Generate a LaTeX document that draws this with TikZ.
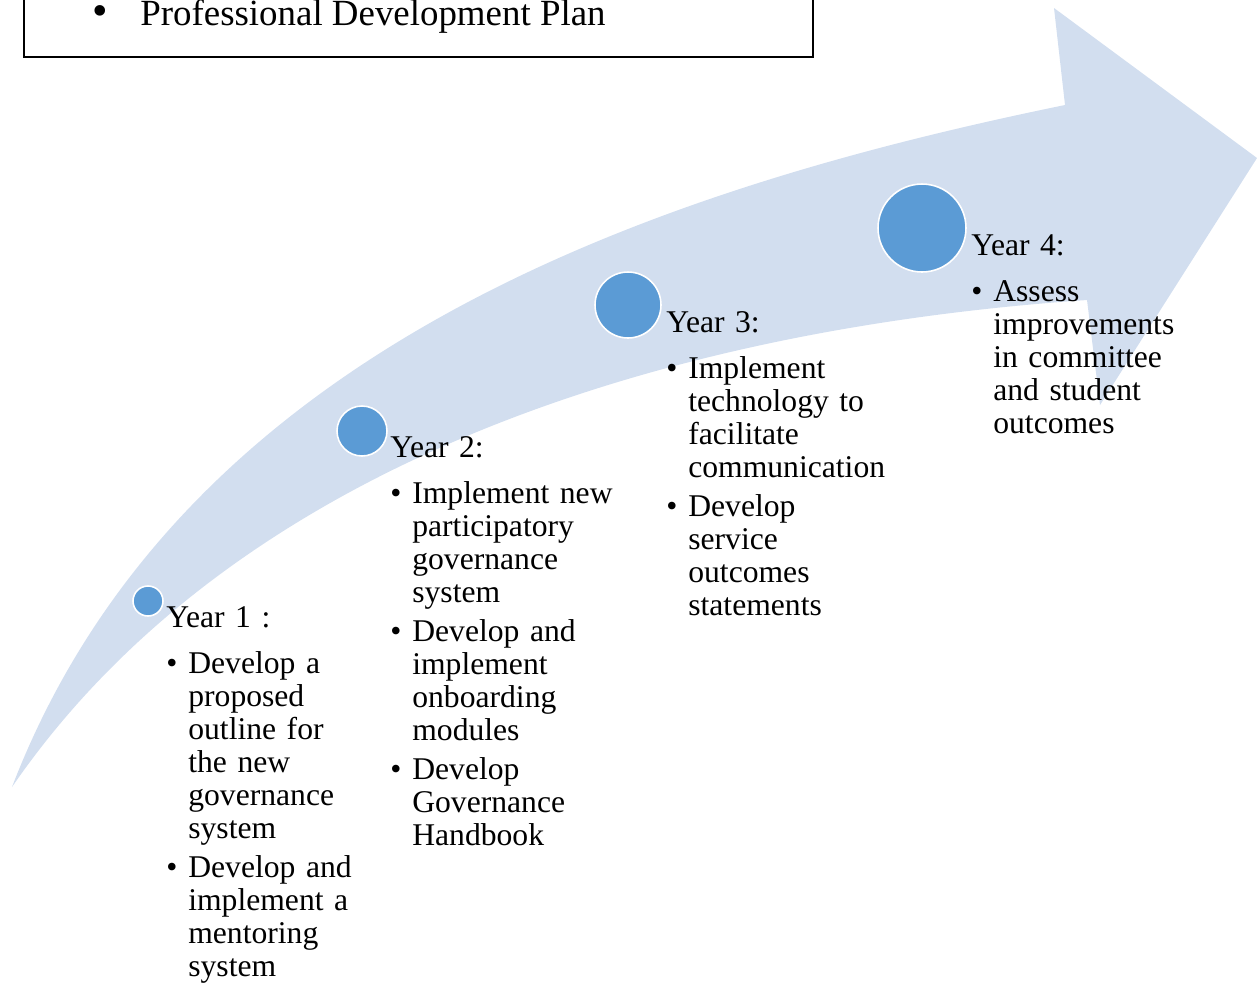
\documentclass[tikz,border=0pt]{standalone}
\usepackage{fontspec}
\setmainfont{Liberation Serif}
\usetikzlibrary{positioning}

\definecolor{bandblue}{HTML}{D2DEEF}
\definecolor{dotblue}{HTML}{5B9BD5}

\newcommand{\yhead}[1]{#1\par\vspace{4pt}}
\newcommand{\yitem}[1]{\par\vspace{3.4pt}\hangindent=0.44cm\hangafter=1\noindent\makebox[0.44cm][l]{\textbullet}#1\par}

\tikzset{
	yeardot/.style={circle, fill=dotblue, draw=white, line width=0.9pt, inner sep=0pt},
	yeartext/.style={anchor=base west, inner sep=0pt, text width=5cm, align=left,
		font=\fontsize{18}{18.8}\selectfont}
}

\begin{document}
\begin{tikzpicture}[x=0.02cm, y=-0.02cm]
		\useasboundingbox (0,0) rectangle (1257,985);

		%title frame
		\draw[line width=1.1pt] (24,-20) rectangle (813,57);
		\node[anchor=base west, inner sep=0pt, font=\fontsize{21}{24}\selectfont] (bul) at (92,25) {\scalebox{1.2}{\textbullet}};
		\node[anchor=base west, inner sep=0pt, font=\fontsize{21}{24}\selectfont] (plan) at (140,25) {Professional Development Plan};

		%band arrow
		\fill[bandblue] (12,787) .. controls (180,350) and (650,190) .. (1065,105)
			-- (1054,8) -- (1257,158) -- (1100,405) -- (1087,300)
			.. controls (650,330) and (230,470) .. (12,787) -- cycle;

		%milestones
		\foreach \n/\cx/\cy/\d in {1/148/601/0.6, 2/362/431/1.0, 3/628/305/1.32, 4/922/228/1.76}{
			\node[yeardot, minimum size=\d cm] (c\n) at (\cx,\cy) {};
		}

		\node[yeartext] (t1) at (166,627) {\yhead{Year 1 :}%
			\yitem{Develop a\newline proposed\newline outline for\newline the new\newline governance\newline system}%
			\yitem{Develop and\newline implement a\newline mentoring\newline system}};
		\node[yeartext] (t2) at (390,457) {\yhead{Year 2:}%
			\yitem{Implement new\newline participatory\newline governance\newline system}%
			\yitem{Develop and\newline implement\newline onboarding\newline modules}%
			\yitem{Develop\newline Governance\newline Handbook}};
		\node[yeartext] (t3) at (666,332) {\yhead{Year 3:}%
			\yitem{Implement\newline technology to\newline facilitate\newline communication}%
			\yitem{Develop\newline service\newline outcomes\newline statements}};
		\node[yeartext] (t4) at (971,255) {\yhead{Year 4:}%
			\yitem{Assess\newline improvements\newline in committee\newline and student\newline outcomes}};

	\end{tikzpicture}
\end{document}
